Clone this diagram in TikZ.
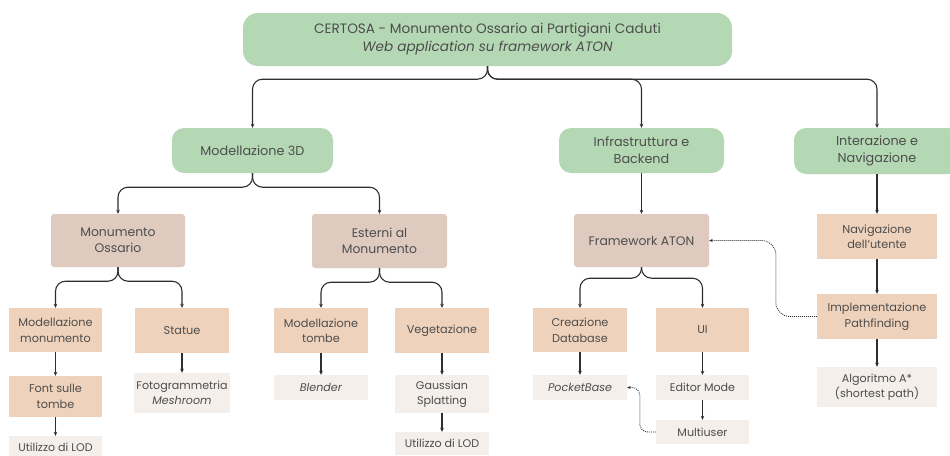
\documentclass[tikz,border=0pt]{standalone}
\usepackage{fontspec}
\setmainfont{Poppins}
\usetikzlibrary{arrows.meta}
\definecolor{leafgreen}{HTML}{B4D8B4}
\definecolor{clay}{HTML}{DFCAC0}
\definecolor{peach}{HTML}{EFD2BB}
\definecolor{linen}{HTML}{F4EFEA}
\definecolor{ink}{HTML}{4D4D4D}
\definecolor{wire}{HTML}{2E2E2E}
\tikzset{
  base/.style={inner sep=2pt, align=center, text=ink},
  topbox/.style={base, fill=leafgreen, rounded corners=15pt,
    font=\fontsize{13.6}{18}\selectfont},
  areabox/.style={base, fill=leafgreen, rounded corners=12pt,
    font=\fontsize{12.8}{17}\selectfont},
  groupbox/.style={base, fill=clay, rounded corners=3pt,
    font=\fontsize{12.4}{16}\selectfont},
  taskbox/.style={base, fill=peach, font=\fontsize{11.3}{15.5}\selectfont},
  toolbox/.style={base, fill=linen, font=\fontsize{11.1}{15}\selectfont},
  sz/.style 2 args={minimum width=#1pt, minimum height=#2pt},
  link/.style={draw=wire, line width=1.1pt,
    -{Stealth[length=4pt,width=3.6pt]}},
  fork/.style={link, rounded corners=10pt},
  hint/.style={draw=wire, line width=0.9pt, dash pattern=on 0.9pt off 1.1pt,
    -{Stealth[length=3.5pt,width=3pt]}, rounded corners=10pt},
}
\begin{document}
\begin{tikzpicture}[x=1pt, y=-1pt]
\useasboundingbox (0,0) rectangle (950,455);
\clip (0,0) rectangle (950,455);
\fill[white] (0,0) rectangle (950,455);

% root
\node[topbox, sz={489}{53}] (root) at (487.5,39.5)
  {CERTOSA - Monumento Ossario ai Partigiani Caduti\\ \textit{Web application su framework ATON}};

% main areas
\node[areabox, sz={161}{45}] (m3d)   at (252.5,150.5) {Modellazione 3D};
\node[areabox, sz={165}{45}] (infra) at (641.5,150.5) {Infrastruttura e\\Backend};
\node[areabox, sz={166}{46}] (inter) at (877,151)     {Interazione e\\Navigazione};

% groups
\node[groupbox, sz={134}{53}] (monoss)  at (118,240.5)   {Monumento\\Ossario};
\node[groupbox, sz={135}{54}] (esterni) at (379.5,241)   {Esterni al\\Monumento};
\node[groupbox, sz={135}{53}] (aton)    at (641.5,240.5) {Framework ATON};
\node[taskbox,  sz={120}{45}] (navut)   at (877,236.5)   {Navigazione\\dell’utente};

% tasks
\node[taskbox, sz={93}{44}] (modmon) at (55.5,330)  {Modellazione\\monumento};
\node[taskbox, sz={94}{45}] (statue) at (182,330.5) {Statue};
\node[taskbox, sz={94}{45}] (modtom) at (321,330.5) {Modellazione\\tombe};
\node[taskbox, sz={94}{45}] (veget)  at (442,330.5) {Vegetazione};
\node[taskbox, sz={94}{44}] (creadb) at (580,330)   {Creazione\\Database};
\node[taskbox, sz={93}{44}] (ui)     at (702.5,330) {UI};
\node[taskbox, sz={120}{45}] (impl)  at (877,316.5) {Implementazione\\Pathfinding};
\node[taskbox, sz={93}{41}] (font)   at (55.5,396.5) {Font sulle\\tombe};

% tools and techniques
\node[toolbox, sz={93}{22}]  (lodA)    at (55.5,447)   {Utilizzo di LOD};
\node[toolbox, sz={94}{40}]  (foto)    at (182,393)    {Fotogrammetria\\\textit{Meshroom}};
\node[toolbox, sz={94}{25}]  (blender) at (321,387.5)  {\textit{Blender}};
\node[toolbox, sz={94}{38}]  (gauss)   at (442,394)    {Gaussian\\Splatting};
\node[toolbox, sz={94}{23}]  (lodB)    at (442,443.5)  {Utilizzo di LOD};
\node[toolbox, sz={94}{25}]  (pocket)  at (580,387.5)  {\textit{PocketBase}};
\node[toolbox, sz={93}{25}]  (editor)  at (702.5,387.5) {Editor Mode};
\node[toolbox, sz={93}{24}]  (multi)   at (702.5,432)  {Multiuser};
\node[toolbox, sz={120}{40}] (algo)    at (877,387)    {Algoritmo A*\\(shortest path)};

% forks
\draw[fork] (root.south) -- ++(0,13) -| (m3d.north);
\draw[fork] (root.south) -- ++(0,13) -| (infra.north);
\draw[fork] (root.south) -- ++(0,13) -| (inter.north);
\draw[fork] (m3d.south) -- ++(0,14) -| (monoss.north);
\draw[fork] (m3d.south) -- ++(0,14) -| (esterni.north);
\draw[fork] (monoss.south) -- ++(0,14) -| (modmon.north);
\draw[fork] (monoss.south) -- ++(0,14) -| (statue.north);
\draw[fork] (esterni.south) -- ++(0,14) -| (modtom.north);
\draw[fork] (esterni.south) -- ++(0,14) -| (veget.north);
\draw[fork] (aton.south) -- ++(0,11) -| (creadb.north);
\draw[fork] (aton.south) -- ++(0,11) -| (ui.north);

% straight links
\draw[link] (infra) -- (aton);
\draw[link] (inter) -- (navut);
\draw[link] (navut) -- (impl);
\draw[link] (impl) -- (algo);
\draw[link] (modmon) -- (font);
\draw[link] (font) -- (lodA);
\draw[link] (statue) -- (foto);
\draw[link] (modtom) -- (blender);
\draw[link] (veget) -- (gauss);
\draw[link] (gauss) -- (lodB);
\draw[link] (creadb) -- (pocket);
\draw[link] (ui) -- (editor);
\draw[link] (editor) -- (multi);

% dotted cross references
\draw[hint, rounded corners=14pt] (impl.west) -- ++(-41,0) |- (aton.east);
\draw[hint, rounded corners=8pt] (multi.west) -- ++(-16,0) |- (pocket.east);
\end{tikzpicture}
\end{document}
